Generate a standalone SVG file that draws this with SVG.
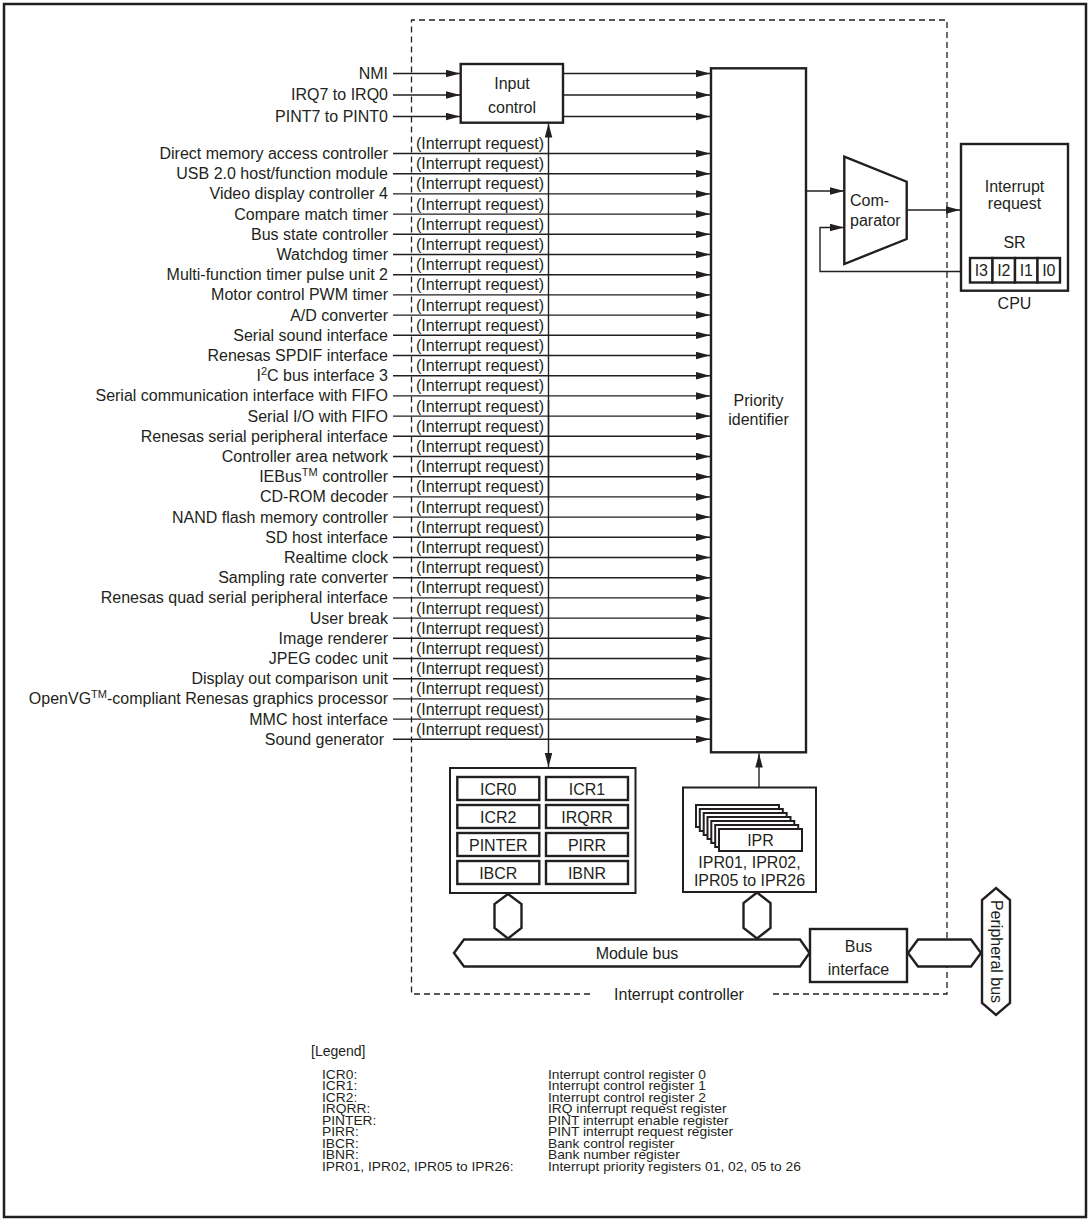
<svg xmlns="http://www.w3.org/2000/svg" width="1090" height="1221" viewBox="0 0 1090 1221">
<style>
text{font-family:"Liberation Sans",Arial,sans-serif;fill:#231f20}
.t16{font-size:16px}
.t14{font-size:14px}
.t12{font-size:12px}
.c{text-anchor:middle}
.r{text-anchor:end}
.ln{stroke:#231f20;stroke-width:1.4;fill:none}
.bx{stroke:#231f20;stroke-width:2.4;fill:#fff}
.bx2{stroke:#231f20;stroke-width:2;fill:#fff}
.dash{stroke:#231f20;stroke-width:1.3;fill:none;stroke-dasharray:6 4}
</style>
<defs>
<marker id="ah" markerUnits="userSpaceOnUse" markerWidth="15" markerHeight="8" refX="14" refY="3.75" orient="auto">
<path d="M0,0 L14,3.75 L0,7.5 z" fill="#231f20"/>
</marker>
</defs>
<rect x="4" y="4" width="1082" height="1213" fill="#fff" stroke="#231f20" stroke-width="2.5"/>

<g id="interrupt-controller-boundary">
<path class="dash" d="M590,994 H411.5 V20 H947 V994 H769"/>
<text class="t16 c" x="679" y="1000">Interrupt controller</text>
</g>

<g id="input-labels">
<text class="t16 r" x="388" y="79">NMI</text>
<text class="t16 r" x="388" y="100">IRQ7 to IRQ0</text>
<text class="t16 r" x="388" y="122">PINT7 to PINT0</text>
</g>

<g id="module-labels" class="t16">
<text class="r" x="388" y="159">Direct memory access controller</text>
<text class="r" x="388" y="179.2">USB 2.0 host/function module</text>
<text class="r" x="388" y="199.4">Video display controller 4</text>
<text class="r" x="388" y="219.6">Compare match timer</text>
<text class="r" x="388" y="239.8">Bus state controller</text>
<text class="r" x="388" y="260">Watchdog timer</text>
<text class="r" x="388" y="280.2">Multi-function timer pulse unit 2</text>
<text class="r" x="388" y="300.4">Motor control PWM timer</text>
<text class="r" x="388" y="320.6">A/D converter</text>
<text class="r" x="388" y="340.8">Serial sound interface</text>
<text class="r" x="388" y="361">Renesas SPDIF interface</text>
<text class="r" x="388" y="381.2">I<tspan font-size="11" dy="-6">2</tspan><tspan dy="6">C bus interface 3</tspan></text>
<text class="r" x="388" y="401.4">Serial communication interface with FIFO</text>
<text class="r" x="388" y="421.6">Serial I/O with FIFO</text>
<text class="r" x="388" y="441.8">Renesas serial peripheral interface</text>
<text class="r" x="388" y="462">Controller area network</text>
<text class="r" x="388" y="482.2">IEBus<tspan font-size="11" dy="-6">TM</tspan><tspan dy="6"> controller</tspan></text>
<text class="r" x="388" y="502.4">CD-ROM decoder</text>
<text class="r" x="388" y="522.6">NAND flash memory controller</text>
<text class="r" x="388" y="542.8">SD host interface</text>
<text class="r" x="388" y="563">Realtime clock</text>
<text class="r" x="388" y="583.2">Sampling rate converter</text>
<text class="r" x="388" y="603.4">Renesas quad serial peripheral interface</text>
<text class="r" x="388" y="623.6">User break</text>
<text class="r" x="388" y="643.8">Image renderer</text>
<text class="r" x="388" y="664">JPEG codec unit</text>
<text class="r" x="388" y="684.2">Display out comparison unit</text>
<text class="r" x="388" y="704.4">OpenVG<tspan font-size="11" dy="-6">TM</tspan><tspan dy="6">-compliant Renesas graphics processor</tspan></text>
<text class="r" x="388" y="724.6">MMC host interface</text>
<text class="r" x="384" y="744.8">Sound generator</text>
</g>

<g id="connectors">
<line class="ln" x1="393" y1="73.5" x2="460" y2="73.5" marker-end="url(#ah)"/>
<line class="ln" x1="393" y1="95" x2="460" y2="95" marker-end="url(#ah)"/>
<line class="ln" x1="393" y1="116.5" x2="460" y2="116.5" marker-end="url(#ah)"/>
<line class="ln" x1="563" y1="73.5" x2="710" y2="73.5" marker-end="url(#ah)"/>
<line class="ln" x1="563" y1="95" x2="710" y2="95" marker-end="url(#ah)"/>
<line class="ln" x1="563" y1="116.5" x2="710" y2="116.5" marker-end="url(#ah)"/>
<line class="ln" x1="393" y1="153.5" x2="710" y2="153.5" marker-end="url(#ah)"/>
<line class="ln" x1="393" y1="173.7" x2="710" y2="173.7" marker-end="url(#ah)"/>
<line class="ln" x1="393" y1="193.9" x2="710" y2="193.9" marker-end="url(#ah)"/>
<line class="ln" x1="393" y1="214.1" x2="710" y2="214.1" marker-end="url(#ah)"/>
<line class="ln" x1="393" y1="234.3" x2="710" y2="234.3" marker-end="url(#ah)"/>
<line class="ln" x1="393" y1="254.5" x2="710" y2="254.5" marker-end="url(#ah)"/>
<line class="ln" x1="393" y1="274.7" x2="710" y2="274.7" marker-end="url(#ah)"/>
<line class="ln" x1="393" y1="294.9" x2="710" y2="294.9" marker-end="url(#ah)"/>
<line class="ln" x1="393" y1="315.1" x2="710" y2="315.1" marker-end="url(#ah)"/>
<line class="ln" x1="393" y1="335.3" x2="710" y2="335.3" marker-end="url(#ah)"/>
<line class="ln" x1="393" y1="355.5" x2="710" y2="355.5" marker-end="url(#ah)"/>
<line class="ln" x1="393" y1="375.7" x2="710" y2="375.7" marker-end="url(#ah)"/>
<line class="ln" x1="393" y1="395.9" x2="710" y2="395.9" marker-end="url(#ah)"/>
<line class="ln" x1="393" y1="416.1" x2="710" y2="416.1" marker-end="url(#ah)"/>
<line class="ln" x1="393" y1="436.3" x2="710" y2="436.3" marker-end="url(#ah)"/>
<line class="ln" x1="393" y1="456.5" x2="710" y2="456.5" marker-end="url(#ah)"/>
<line class="ln" x1="393" y1="476.7" x2="710" y2="476.7" marker-end="url(#ah)"/>
<line class="ln" x1="393" y1="496.9" x2="710" y2="496.9" marker-end="url(#ah)"/>
<line class="ln" x1="393" y1="517.1" x2="710" y2="517.1" marker-end="url(#ah)"/>
<line class="ln" x1="393" y1="537.3" x2="710" y2="537.3" marker-end="url(#ah)"/>
<line class="ln" x1="393" y1="557.5" x2="710" y2="557.5" marker-end="url(#ah)"/>
<line class="ln" x1="393" y1="577.7" x2="710" y2="577.7" marker-end="url(#ah)"/>
<line class="ln" x1="393" y1="597.9" x2="710" y2="597.9" marker-end="url(#ah)"/>
<line class="ln" x1="393" y1="618.1" x2="710" y2="618.1" marker-end="url(#ah)"/>
<line class="ln" x1="393" y1="638.3" x2="710" y2="638.3" marker-end="url(#ah)"/>
<line class="ln" x1="393" y1="658.5" x2="710" y2="658.5" marker-end="url(#ah)"/>
<line class="ln" x1="393" y1="678.7" x2="710" y2="678.7" marker-end="url(#ah)"/>
<line class="ln" x1="393" y1="698.9" x2="710" y2="698.9" marker-end="url(#ah)"/>
<line class="ln" x1="393" y1="719.1" x2="710" y2="719.1" marker-end="url(#ah)"/>
<line class="ln" x1="393" y1="739.3" x2="710" y2="739.3" marker-end="url(#ah)"/>
<line class="ln" x1="548.5" y1="500" x2="548.5" y2="123.5" marker-end="url(#ah)"/>
<line class="ln" x1="548.5" y1="400" x2="548.5" y2="767" marker-end="url(#ah)"/>
<line class="ln" x1="759" y1="787" x2="759" y2="753.5" marker-end="url(#ah)"/>
<line class="ln" x1="806" y1="191" x2="844" y2="191" marker-end="url(#ah)"/>
<line class="ln" x1="906.7" y1="210" x2="960" y2="210" marker-end="url(#ah)"/>
<path class="ln" d="M970,271.5 H820 V227.5 H844" marker-end="url(#ah)"/>
</g>

<g id="request-labels" class="t16">
<text x="416" y="149">(Interrupt request)</text>
<text x="416" y="169.2">(Interrupt request)</text>
<text x="416" y="189.4">(Interrupt request)</text>
<text x="416" y="209.6">(Interrupt request)</text>
<text x="416" y="229.8">(Interrupt request)</text>
<text x="416" y="250">(Interrupt request)</text>
<text x="416" y="270.2">(Interrupt request)</text>
<text x="416" y="290.4">(Interrupt request)</text>
<text x="416" y="310.6">(Interrupt request)</text>
<text x="416" y="330.8">(Interrupt request)</text>
<text x="416" y="351">(Interrupt request)</text>
<text x="416" y="371.2">(Interrupt request)</text>
<text x="416" y="391.4">(Interrupt request)</text>
<text x="416" y="411.6">(Interrupt request)</text>
<text x="416" y="431.8">(Interrupt request)</text>
<text x="416" y="452">(Interrupt request)</text>
<text x="416" y="472.2">(Interrupt request)</text>
<text x="416" y="492.4">(Interrupt request)</text>
<text x="416" y="512.6">(Interrupt request)</text>
<text x="416" y="532.8">(Interrupt request)</text>
<text x="416" y="553">(Interrupt request)</text>
<text x="416" y="573.2">(Interrupt request)</text>
<text x="416" y="593.4">(Interrupt request)</text>
<text x="416" y="613.6">(Interrupt request)</text>
<text x="416" y="633.8">(Interrupt request)</text>
<text x="416" y="654">(Interrupt request)</text>
<text x="416" y="674.2">(Interrupt request)</text>
<text x="416" y="694.4">(Interrupt request)</text>
<text x="416" y="714.6">(Interrupt request)</text>
<text x="416" y="734.8">(Interrupt request)</text>
</g>

<g id="input-control">
<rect class="bx" x="460.7" y="64" width="102.3" height="58.7"/>
<text class="t16 c" x="512" y="88.5">Input</text>
<text class="t16 c" x="512" y="112.5">control</text>
</g>

<g id="priority-identifier">
<rect class="bx" x="711" y="68.3" width="95" height="684"/>
<text class="t16 c" x="758.5" y="406">Priority</text>
<text class="t16 c" x="758.5" y="425">identifier</text>
</g>

<g id="comparator">
<path class="bx" d="M844.3,156.7 L906.7,181.7 L906.7,239 L844.3,264 Z"/>
<text class="t16" x="850" y="206">Com-</text>
<text class="t16" x="850" y="226">parator</text>
</g>

<g id="cpu">
<rect class="bx" x="961" y="144" width="107" height="146.7"/>
<text class="t16 c" x="1014.5" y="192">Interrupt</text>
<text class="t16 c" x="1014.5" y="209">request</text>
<text class="t16 c" x="1014.5" y="247.5">SR</text>
<rect class="bx" x="970" y="258" width="22.5" height="24.5"/>
<rect class="bx" x="992.5" y="258" width="22.5" height="24.5"/>
<rect class="bx" x="1015" y="258" width="22.5" height="24.5"/>
<rect class="bx" x="1037.5" y="258" width="22.5" height="24.5"/>
<text class="t16 c" x="981.3" y="276">I3</text>
<text class="t16 c" x="1003.8" y="276">I2</text>
<text class="t16 c" x="1026.3" y="276">I1</text>
<text class="t16 c" x="1048.8" y="276">I0</text>
<text class="t16 c" x="1014.5" y="309">CPU</text>
</g>

<g id="icr-registers">
<rect class="bx2" x="450" y="768" width="185.5" height="125"/>
<rect class="bx" x="457.3" y="777" width="82" height="23"/>
<rect class="bx" x="546" y="777" width="82" height="23"/>
<rect class="bx" x="457.3" y="805" width="82" height="23"/>
<rect class="bx" x="546" y="805" width="82" height="23"/>
<rect class="bx" x="457.3" y="833" width="82" height="23"/>
<rect class="bx" x="546" y="833" width="82" height="23"/>
<rect class="bx" x="457.3" y="861" width="82" height="23"/>
<rect class="bx" x="546" y="861" width="82" height="23"/>
<text class="t16 c" x="498.3" y="794.5">ICR0</text>
<text class="t16 c" x="587" y="794.5">ICR1</text>
<text class="t16 c" x="498.3" y="822.5">ICR2</text>
<text class="t16 c" x="587" y="822.5">IRQRR</text>
<text class="t16 c" x="498.3" y="850.5">PINTER</text>
<text class="t16 c" x="587" y="850.5">PIRR</text>
<text class="t16 c" x="498.3" y="878.5">IBCR</text>
<text class="t16 c" x="587" y="878.5">IBNR</text>
</g>

<g id="ipr-registers">
<rect class="bx2" x="683" y="787.5" width="133" height="104.5"/>
<rect class="bx2" x="696" y="805" width="83" height="22"/>
<rect class="bx2" x="699.8" y="809" width="83" height="22"/>
<rect class="bx2" x="703.7" y="813" width="83" height="22"/>
<rect class="bx2" x="707.5" y="817" width="83" height="22"/>
<rect class="bx2" x="711.3" y="821" width="83" height="22"/>
<rect class="bx2" x="715.2" y="825" width="83" height="22"/>
<rect class="bx2" x="719" y="829" width="83" height="22"/>
<text class="t16 c" x="760.5" y="846">IPR</text>
<text class="t16 c" x="749.5" y="868">IPR01, IPR02,</text>
<text class="t16 c" x="749.5" y="886">IPR05 to IPR26</text>
</g>

<g id="bus-stubs">
<path class="bx" d="M508,894 L521.5,904 L521.5,928 L508,938.5 L494.5,928 L494.5,904 Z"/>
<path class="bx" d="M757,892.5 L770.5,903 L770.5,928 L757,938.5 L743.5,928 L743.5,903 Z"/>
</g>

<g id="module-bus">
<path class="bx" d="M454,953 L464,939.5 L800,939.5 L809.5,953 L800,966.5 L464,966.5 Z"/>
<text class="t16 c" x="637" y="959">Module bus</text>
</g>

<g id="bus-interface">
<rect class="bx" x="810" y="929" width="97" height="53"/>
<text class="t16 c" x="858.5" y="952">Bus</text>
<text class="t16 c" x="858.5" y="975">interface</text>
</g>

<g id="peripheral-link">
<path class="bx" d="M908,953 L918,939.5 L971,939.5 L981,953 L971,966.5 L918,966.5 Z"/>
</g>

<g id="peripheral-bus">
<path class="bx" d="M996,888 L1010,900 L1010,1003 L996,1015 L982,1003 L982,900 Z"/>
<text class="t16 c" transform="translate(990.5,951.5) rotate(90)" x="0" y="0">Peripheral bus</text>
</g>

<g id="legend">
<text class="t14" x="311" y="1056">[Legend]</text>
<g class="t12" transform="translate(322,0) scale(1.15,1)">
<text x="0" y="1079">ICR0:</text>
<text x="0" y="1090.5">ICR1:</text>
<text x="0" y="1102">ICR2:</text>
<text x="0" y="1113.5">IRQRR:</text>
<text x="0" y="1125">PINTER:</text>
<text x="0" y="1136.5">PIRR:</text>
<text x="0" y="1148">IBCR:</text>
<text x="0" y="1159.5">IBNR:</text>
<text x="0" y="1171">IPR01, IPR02, IPR05 to IPR26:</text>
<text x="196.5" y="1079">Interrupt control register 0</text>
<text x="196.5" y="1090.5">Interrupt control register 1</text>
<text x="196.5" y="1102">Interrupt control register 2</text>
<text x="196.5" y="1113.5">IRQ interrupt request register</text>
<text x="196.5" y="1125">PINT interrupt enable register</text>
<text x="196.5" y="1136.5">PINT interrupt request register</text>
<text x="196.5" y="1148">Bank control register</text>
<text x="196.5" y="1159.5">Bank number register</text>
<text x="196.5" y="1171">Interrupt priority registers 01, 02, 05 to 26</text>
</g>
</g>
</svg>
